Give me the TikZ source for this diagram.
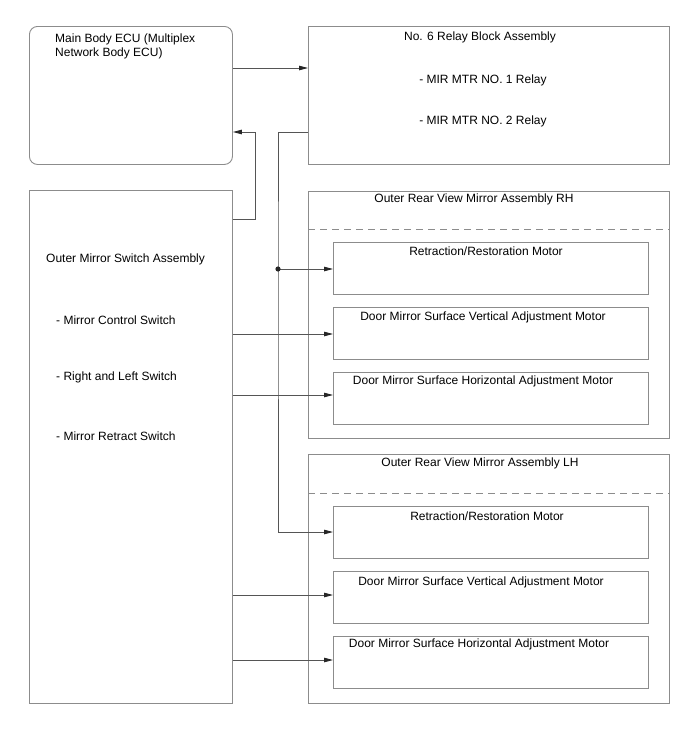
\documentclass[tikz,border=0pt]{standalone}
\usepackage{fontspec}
\setmainfont{Liberation Sans}
\usetikzlibrary{arrows.meta}
\definecolor{boxgray}{RGB}{140,140,140}
\definecolor{linegray}{RGB}{85,85,85}
\begin{document}
\begin{tikzpicture}[x=1pt,y=-1pt,
  box/.style={draw=boxgray, line width=0.9pt, inner sep=0pt, anchor=north west},
  lbl/.style={inner sep=0pt, font=\fontsize{12}{13.5}\selectfont, text=black},
  conn/.style={draw=linegray, line width=0.9pt},
  arr/.style={conn, -{Triangle[length=9pt,width=4.5pt,color=black!85]}},
  dashsep/.style={draw=boxgray, line width=0.9pt, dash pattern=on 7pt off 5pt},
]
\useasboundingbox (0,0) rectangle (688,755);
\fill[white] (0,0) rectangle (688,755);

% boxes
\node[box, rounded corners=8pt, minimum width=203pt, minimum height=138pt] (ecu) at (29,26) {};
\node[box, minimum width=361pt, minimum height=138pt] (relay) at (308,26) {};
\node[box, minimum width=203pt, minimum height=513pt] (sw) at (29,190) {};

\node[box, minimum width=361pt, minimum height=247pt] (rh) at (308,191) {};
\node[box, minimum width=315pt, minimum height=52pt] (rh1) at (333,242) {};
\node[box, minimum width=315pt, minimum height=52pt] (rh2) at (333,307) {};
\node[box, minimum width=315pt, minimum height=52pt] (rh3) at (333,372) {};

\node[box, minimum width=361pt, minimum height=249pt] (lh) at (308,454) {};
\node[box, minimum width=315pt, minimum height=52pt] (lh1) at (333,506) {};
\node[box, minimum width=315pt, minimum height=52pt] (lh2) at (333,571) {};
\node[box, minimum width=315pt, minimum height=52pt] (lh3) at (333,636) {};

\draw[dashsep] (rh.west |- 0,229) -- (rh.east |- 0,229);
\draw[dashsep] (lh.west |- 0,493) -- (lh.east |- 0,493);

% texts
\node[lbl, anchor=north west, align=left] (ecut) at (55,34) {Main Body ECU (Multiplex\\Network Body ECU)};
\node[lbl] (relayt) at (480,37) {No. 6 Relay Block Assembly};
\node[lbl] (relay1) at (483,80) {- MIR MTR NO. 1 Relay};
\node[lbl] (relay2) at (483,121) {- MIR MTR NO. 2 Relay};

\node[lbl, anchor=west] (swt) at (46,259) {Outer Mirror Switch Assembly};
\node[lbl, anchor=west] (sw1) at (56,320) {- Mirror Control Switch};
\node[lbl, anchor=west] (sw2) at (56,377) {- Right and Left Switch};
\node[lbl, anchor=west] (sw3) at (56,436) {- Mirror Retract Switch};

\node[lbl] (rht) at (474,199) {Outer Rear View Mirror Assembly RH};
\node[lbl] (rh1t) at (486,251) {Retraction/Restoration Motor};
\node[lbl] (rh2t) at (483,317) {Door Mirror Surface Vertical Adjustment Motor};
\node[lbl] (rh3t) at (483,381) {Door Mirror Surface Horizontal Adjustment Motor};

\node[lbl] (lht) at (480,463) {Outer Rear View Mirror Assembly LH};
\node[lbl] (lh1t) at (487,516) {Retraction/Restoration Motor};
\node[lbl] (lh2t) at (481,582) {Door Mirror Surface Vertical Adjustment Motor};
\node[lbl] (lh3t) at (479,644) {Door Mirror Surface Horizontal Adjustment Motor};

% connectors
\draw[arr] (ecu.east |- 0,68) -- (relay.west |- 0,68);
\draw[arr] (sw.east |- 0,219) -| (255,132) -- (ecu.east |- 0,132);

\coordinate (jn) at (278,269);
\draw[arr] (relay.west |- 0,132) -| (jn) |- (lh1.west |- 0,532);
\draw[arr] (jn) -- (rh1.west |- jn);
\fill[black!85] (jn) circle (2.6pt);

\draw[arr] (sw.east |- 0,334) -- (rh2.west |- 0,334);
\draw[arr] (sw.east |- 0,395) -- (rh3.west |- 0,395);
\draw[arr] (sw.east |- 0,595) -- (lh2.west |- 0,595);
\draw[arr] (sw.east |- 0,660) -- (lh3.west |- 0,660);
\end{tikzpicture}
\end{document}
